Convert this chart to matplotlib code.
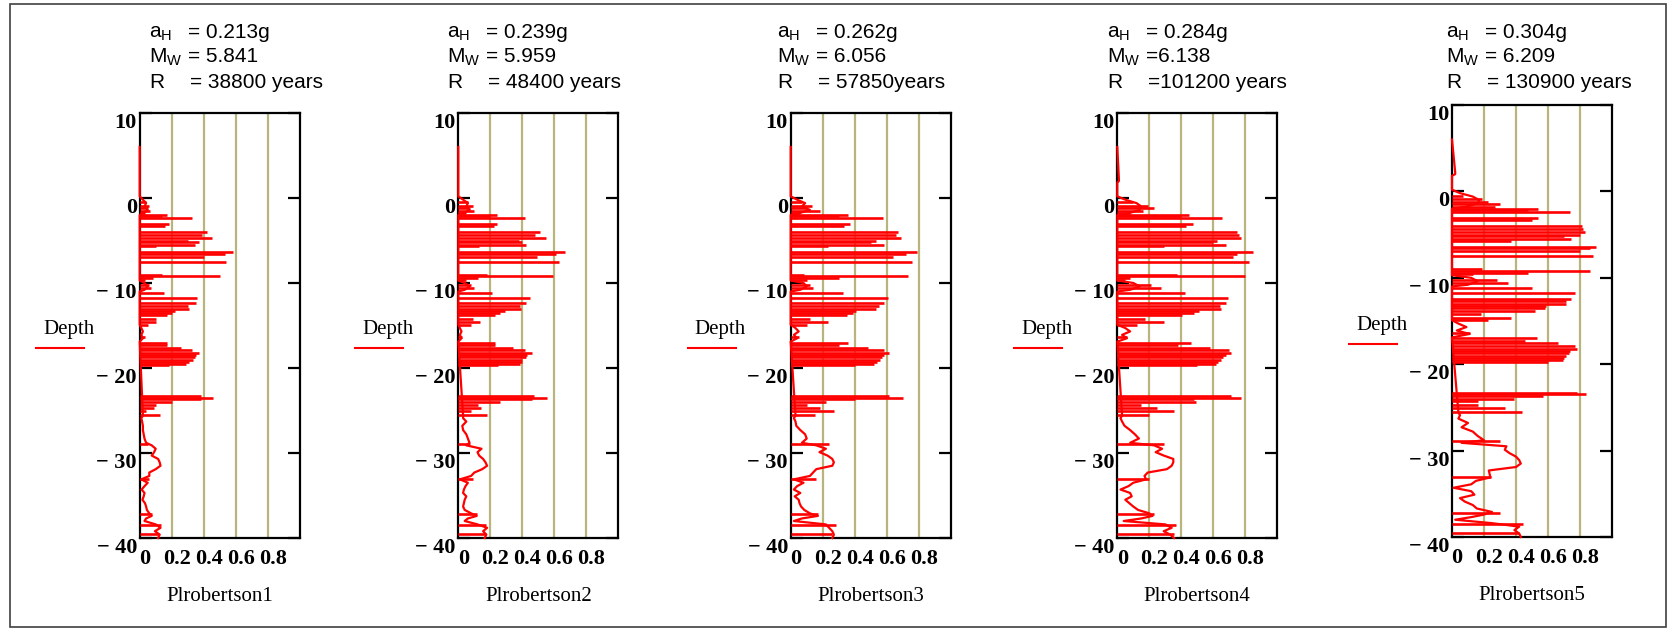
"""Liquefaction potential (Robertson) vs depth for five hazard levels."""

import matplotlib
matplotlib.use("Agg")
import matplotlib.pyplot as plt
from matplotlib.lines import Line2D
from matplotlib.patches import Rectangle
from matplotlib.transforms import ScaledTranslation

plt.rcParams["mathtext.default"] = "regular"

# ---- data ------------------------------------------------------------------
PANEL_NAMES = ["Plrobertson1", "Plrobertson2", "Plrobertson3", "Plrobertson4", "Plrobertson5"]
A_H = ["= 0.213g", "= 0.239g", "= 0.262g", "= 0.284g", "= 0.304g"]
M_W = ["= 5.841", "= 5.959", "= 6.056", "=6.138", "= 6.209"]
RETURN = ["= 38800 years", "= 48400 years", "= 57850years", "=101200 years", "= 130900 years"]

Y_TICKS = [10, 0, -10, -20, -30, -40]
Y_TICK_LABELS = ["10", "0", "\u2212 10", "\u2212 20", "\u2212 30", "\u2212 40"]
X_TICKS = [0, 0.2, 0.4, 0.6, 0.8]
X_TICK_LABELS = ["0", "0.2", "0.4", "0.6", "0.8"]

# depths (m) of the thin liquefiable layers that show up as horizontal spikes
SPIKE_DEPTH = [-0.5, -0.9, -1.2, -1.5, -1.75, -2.0, -2.15, -2.4, -3.1, -3.3,
               -4.0, -4.3, -4.7, -5.0, -5.2, -5.5, -5.7, -6.4, -6.6, -6.9,
               -7.5, -9.0, -9.2, -9.4, -9.6, -10.2, -10.6, -11.2, -11.8, -12.4,
               -12.7, -13.0, -13.3, -13.5, -13.8, -14.2, -14.6, -14.9, -16.4, -17.0,
               -17.3, -17.6, -17.9, -18.2, -18.5, -18.7, -19.0, -19.3, -19.5, -19.7,
               -23.3, -23.5, -23.7, -24.0, -24.3, -24.7, -25.1, -25.5,
               -28.9, -33.0, -37.2, -38.5, -39.5]

SPIKE_PL_1 = [0.04, 0.06, 0.05, 0.065, 0.03, 0.17, 0.14, 0.325, 0.18, 0.16,
              0.42, 0.39, 0.45, 0.30, 0.37, 0.345, 0.10, 0.58, 0.53, 0.40,
              0.54, 0.14, 0.50, 0.08, 0.03, 0.06, 0.07, 0.15, 0.36, 0.35,
              0.30, 0.31, 0.22, 0.20, 0.17, 0.10, 0.10, 0.05, 0.03, 0.17,
              0.17, 0.26, 0.325, 0.37, 0.35, 0.345, 0.33, 0.31, 0.29, 0.18,
              0.38, 0.46, 0.38, 0.20, 0.10, 0.09, 0.04, 0.125,
              0.05, 0.06, 0.075, 0.13, 0.12]
SPIKE_PL_2 = [0.06, 0.09, 0.07, 0.10, 0.05, 0.24, 0.20, 0.415, 0.24, 0.22,
              0.51, 0.48, 0.545, 0.38, 0.40, 0.425, 0.13, 0.665, 0.61, 0.49,
              0.63, 0.18, 0.59, 0.12, 0.05, 0.08, 0.10, 0.21, 0.45, 0.425,
              0.385, 0.39, 0.29, 0.26, 0.23, 0.09, 0.135, 0.08, 0.02, 0.23,
              0.23, 0.34, 0.415, 0.46, 0.43, 0.42, 0.40, 0.395, 0.385, 0.25,
              0.47, 0.555, 0.46, 0.26, 0.12, 0.14, 0.08, 0.18,
              0.07, 0.09, 0.115, 0.175, 0.17]
SPIKE_PL_3 = [0.07, 0.13, 0.10, 0.18, 0.06, 0.36, 0.30, 0.575, 0.37, 0.33,
              0.67, 0.66, 0.69, 0.53, 0.50, 0.585, 0.23, 0.79, 0.72, 0.64,
              0.76, 0.08, 0.73, 0.30, 0.10, 0.12, 0.14, 0.325, 0.605, 0.585,
              0.55, 0.53, 0.41, 0.39, 0.35, 0.12, 0.23, 0.10, 0.05, 0.36,
              0.30, 0.48, 0.585, 0.615, 0.58, 0.57, 0.555, 0.54, 0.52, 0.40,
              0.615, 0.70, 0.40, 0.22, 0.10, 0.18, 0.27, 0.15,
              0.24, 0.16, 0.17, 0.28, 0.26]
SPIKE_PL_4 = [0.10, 0.19, 0.23, 0.16, 0.08, 0.45, 0.40, 0.655, 0.47, 0.43,
              0.75, 0.76, 0.77, 0.625, 0.60, 0.68, 0.29, 0.845, 0.75, 0.72,
              0.82, 0.375, 0.80, 0.08, 0.05, 0.21, 0.27, 0.42, 0.69, 0.68,
              0.64, 0.645, 0.51, 0.48, 0.405, 0.17, 0.29, 0.12, 0.06, 0.46,
              0.38, 0.58, 0.70, 0.71, 0.68, 0.66, 0.645, 0.63, 0.615, 0.50,
              0.71, 0.77, 0.48, 0.49, 0.15, 0.25, 0.355, 0.20,
              0.29, 0.20, 0.23, 0.365, 0.355]
SPIKE_PL_5 = [0.07, 0.19, 0.225, 0.30, 0.27, 0.54, 0.475, 0.735, 0.54, 0.50,
              0.81, 0.82, 0.83, 0.80, 0.70, 0.745, 0.37, 0.90, 0.86, 0.80,
              0.88, 0.19, 0.86, 0.475, 0.13, 0.28, 0.35, 0.50, 0.77, 0.745,
              0.715, 0.715, 0.59, 0.58, 0.52, 0.18, 0.37, 0.225, 0.11, 0.53,
              0.455, 0.66, 0.77, 0.78, 0.735, 0.73, 0.715, 0.70, 0.695, 0.60,
              0.78, 0.84, 0.57, 0.39, 0.16, 0.16, 0.33, 0.44,
              0.30, 0.245, 0.30, 0.445, 0.42]

# continuous trace (background values between the spikes)
PROFILE_DEPTH = [6.0, 2.2, 2.0, 1.8, 0.2, -0.2, -0.6, -1.0, -1.4, -1.8,
                 -2.0, -9.7, -10.0, -10.4, -10.8, -11.0, -14.9, -15.3, -15.7, -16.1,
                 -16.5, -16.9, -25.6, -25.9, -26.3, -26.8, -27.3, -27.8, -28.3, -28.8,
                 -29.1, -29.5, -29.9, -30.3, -30.7, -31.1, -31.5, -31.9, -32.3, -32.7,
                 -33.1, -33.5, -33.9, -34.3, -34.7, -35.1, -35.5, -35.9, -36.3, -36.7,
                 -37.1, -37.4, -37.7, -38.0, -38.4, -38.8, -39.2, -39.6, -40.0]

PROFILE_PL_1 = [0, 0, 0, 0, 0, 0.02, 0.04, 0.03, 0.05, 0.02,
                0, 0, 0.03, 0.05, 0.03, 0, 0, 0.01, 0.02, 0.01,
                0.02, 0, 0.02, 0.01, 0.015, 0.02, 0.02, 0.025, 0.03, 0.04,
                0.075, 0.10, 0.09, 0.075, 0.115, 0.125, 0.13, 0.10, 0.06, 0.06,
                0.01, 0.05, 0.03, 0.012, 0.03, 0.025, 0.017, 0.033, 0.04, 0.045,
                0.06, 0.075, 0.04, 0.03, 0.10, 0.13, 0.095, 0.125, 0.115]
PROFILE_PL_2 = [0, 0, 0, 0, 0, 0.03, 0.06, 0.05, 0.07, 0.03,
                0, 0, 0.04, 0.07, 0.04, 0, 0, 0.01, 0.02, 0.01,
                0.02, 0, 0.03, 0.03, 0.05, 0.025, 0.03, 0.05, 0.06, 0.07,
                0.05, 0.145, 0.12, 0.13, 0.155, 0.17, 0.18, 0.15, 0.10, 0.08,
                0.01, 0.06, 0.045, 0.035, 0.03, 0.05, 0.04, 0.035, 0.03, 0.04,
                0.08, 0.115, 0.06, 0.04, 0.12, 0.18, 0.155, 0.175, 0.165]
PROFILE_PL_3 = [0, 0, 0, 0, 0, 0.04, 0.09, 0.07, 0.12, 0.05,
                0, 0, 0.08, 0.10, 0.06, 0, 0, 0.03, 0.05, 0.02,
                0.04, 0, 0.03, 0.02, 0.03, 0.035, 0.06, 0.09, 0.10, 0.07,
                0.16, 0.22, 0.18, 0.23, 0.26, 0.27, 0.26, 0.16, 0.14, 0.12,
                0.02, 0.08, 0.04, 0.02, 0.06, 0.025, 0.05, 0.055, 0.065, 0.085,
                0.12, 0.17, 0.07, 0.02, 0.22, 0.24, 0.26, 0.27, 0.26]
PROFILE_PL_4 = [0, 0.01, 0.01, 0, 0, 0.05, 0.12, 0.15, 0.14, 0.07,
                0, 0, 0.10, 0.14, 0.08, 0, 0, 0.05, 0.08, 0.03,
                0.06, 0, 0.03, 0.02, 0.03, 0.045, 0.08, 0.11, 0.135, 0.08,
                0.23, 0.28, 0.24, 0.29, 0.35, 0.35, 0.34, 0.31, 0.19, 0.17,
                0.18, 0.10, 0.07, 0.02, 0.08, 0.09, 0.05, 0.075, 0.10, 0.13,
                0.20, 0.22, 0.15, 0.04, 0.30, 0.34, 0.29, 0.33, 0.355]
PROFILE_PL_5 = [0, 0.02, 0.02, 0, 0, 0.05, 0.13, 0.17, 0.16, 0.08,
                0, 0, 0.12, 0.16, 0.10, 0, 0, 0.04, 0.09, 0.03,
                0.11, 0, 0.04, 0.05, 0.04, 0.10, 0.06, 0.13, 0.16, 0.20,
                0.06, 0.34, 0.33, 0.36, 0.40, 0.42, 0.43, 0.40, 0.23, 0.235,
                0.24, 0.15, 0.12, 0.01, 0.12, 0.14, 0.05, 0.08, 0.13, 0.155,
                0.25, 0.20, 0.12, 0.02, 0.25, 0.42, 0.39, 0.42, 0.43]

SPIKES = [SPIKE_PL_1, SPIKE_PL_2, SPIKE_PL_3, SPIKE_PL_4, SPIKE_PL_5]
PROFILES = [PROFILE_PL_1, PROFILE_PL_2, PROFILE_PL_3, PROFILE_PL_4, PROFILE_PL_5]

# ---- layout (pixels of the 1676x628 canvas) --------------------------------
W, H = 1676, 628
AX_LEFT = [139.7, 458.3, 790.7, 1117.3, 1452.0]
AX_TOP = [113, 113, 113, 113, 105]
AX_BOTTOM = [538, 538, 538, 538, 537]
AX_WIDTH = 160
HEAD_X = [149, 447, 777, 1107, 1446]
HEAD_Y = [33, 57, 82]

RED = "#ff0000"
GRID = "#b8b47c"
SERIF = "Liberation Serif"
SANS = "Liberation Sans"

fig = plt.figure(figsize=(W / 100, H / 100), dpi=100)
fig.patch.set_facecolor("white")
fig.add_artist(Rectangle((10 / W, 1 - 627 / H), 1656 / W, 623 / H,
                         transform=fig.transFigure, fill=False, ec="#404040", lw=1.2))

shift = ScaledTranslation(5 / 100, 0, fig.dpi_scale_trans)

for i in range(5):
    left, top, bottom = AX_LEFT[i], AX_TOP[i], AX_BOTTOM[i]
    ax = fig.add_axes([left / W, 1 - bottom / H, AX_WIDTH / W, (bottom - top) / H])
    ax.set_xlim(0, 1)
    ax.set_ylim(-40, 10)

    ax.vlines(X_TICKS[1:], -40, 10, color=GRID, lw=1.6, zorder=1)
    ax.hlines(SPIKE_DEPTH, 0, SPIKES[i], color=RED, lw=1.9, zorder=3)
    ax.plot(PROFILES[i], PROFILE_DEPTH, color=RED, lw=1.6, zorder=4, clip_on=False)

    for s in ax.spines.values():
        s.set_linewidth(1.6)
        s.set_color("black")

    ax.set_yticks(Y_TICKS)
    ax.set_yticklabels(Y_TICK_LABELS, fontfamily=SERIF, fontweight="bold", fontsize=16)
    ax.set_xticks(X_TICKS)
    ax.set_xticklabels(X_TICK_LABELS, fontfamily=SERIF, fontweight="bold", fontsize=16)
    ax.tick_params(axis="y", direction="in", length=8.5, width=1.6,
                   left=True, right=True, pad=2)
    ax.tick_params(axis="x", length=0, pad=8)
    for lab in ax.get_yticklabels():
        lab.set_verticalalignment("top")
    for lab in ax.get_xticklabels():
        lab.set_transform(lab.get_transform() + shift)

    ax.set_xlabel(PANEL_NAMES[i], fontfamily=SERIF, fontsize=15, labelpad=13)

    # Mathcad-style axis label with trace sample
    ax.text(-0.44, 0.49, "Depth", transform=ax.transAxes, ha="center", va="center",
            fontfamily=SERIF, fontsize=15)
    ax.add_line(Line2D([-0.645, -0.345], [0.447, 0.447], transform=ax.transAxes,
                       color=RED, lw=1.5, clip_on=False))

    # header block
    hx = HEAD_X[i]
    rows = [("a$_H$", 39, A_H[i]), ("M$_W$", 39, M_W[i]), ("R", 41, RETURN[i])]
    for (name, off, val), hy in zip(rows, HEAD_Y):
        fig.text(hx / W, 1 - hy / H, name, ha="left", va="center",
                 fontfamily=SANS, fontsize=15)
        fig.text((hx + off) / W, 1 - hy / H, val, ha="left", va="center",
                 fontfamily=SANS, fontsize=15)

fig.savefig("out.png", dpi=100)
